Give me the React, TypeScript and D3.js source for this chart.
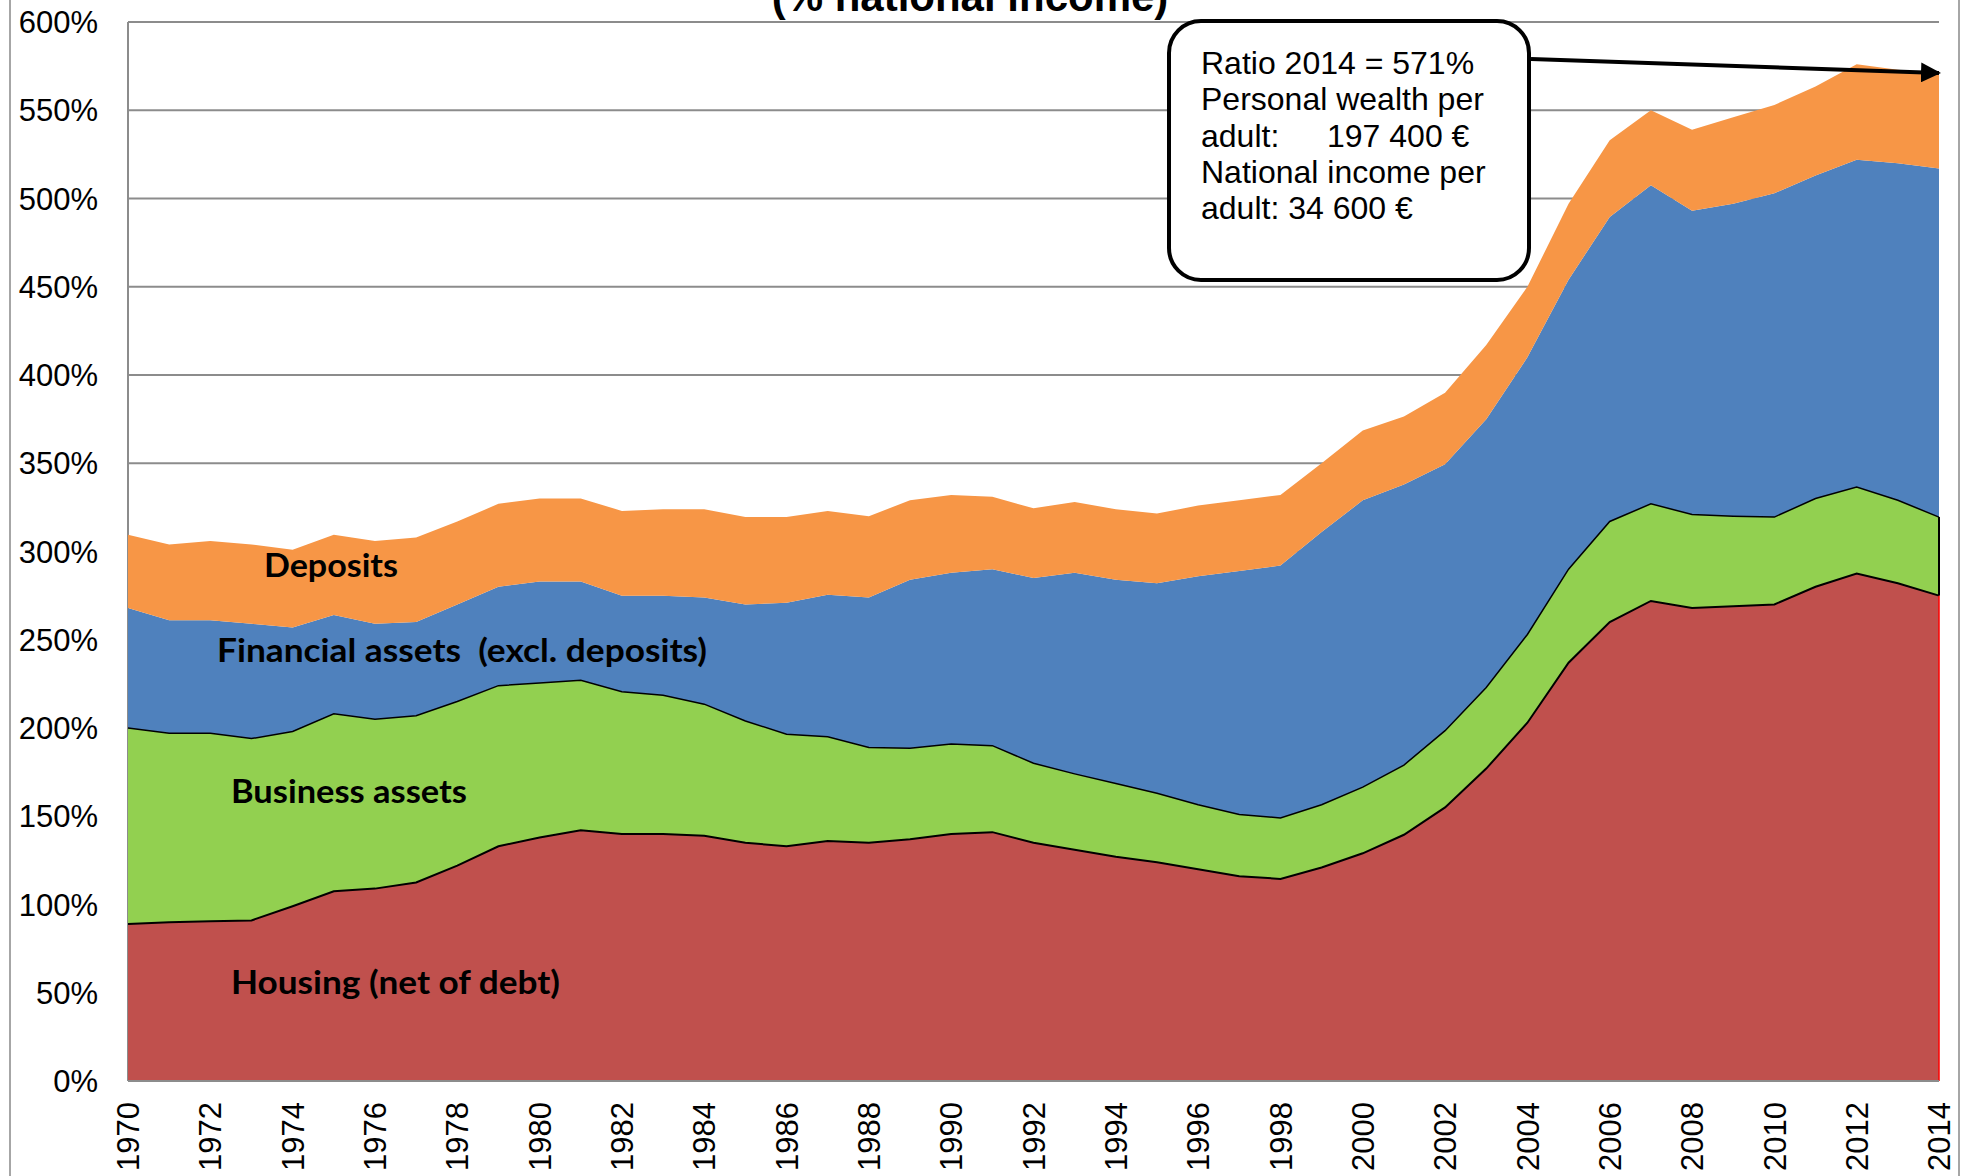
import React from 'react';
import * as d3 from 'd3';

const years = d3.range(1970, 2015);
const housing = [89, 90, 90.5, 91, 99, 107.5, 109, 112.5, 122, 133, 138, 142, 140, 140, 139, 135, 133, 136, 135, 137, 140, 141, 135, 131, 127, 124, 120, 116, 114.5, 121, 129, 139.5, 155, 177, 203, 237, 260, 272, 268, 269, 270, 280, 287.5, 282, 275];
const business = [111, 107, 106.5, 103, 99, 100.5, 96, 94.5, 93, 91, 87.5, 85, 80.5, 78.5, 74.5, 69, 63.5, 59, 54, 51.5, 51, 49, 45, 43, 41.5, 39, 36.5, 35, 34.5, 35.5, 37.5, 39.5, 43.5, 46, 50, 53, 57, 55, 53, 51, 49.5, 50, 49, 47, 44.5];
const financial = [68, 64, 64, 65, 59, 56, 54, 53, 55, 56, 57.5, 56, 54.5, 56.5, 60.5, 66, 74.5, 80.5, 85, 95.5, 97, 100, 105, 114, 115.5, 119, 129.5, 138, 143, 154.5, 162.5, 159, 151, 152, 157, 164, 172.5, 180.5, 172, 177, 183.5, 183, 185.5, 191, 197.5];
const deposits = [41.5, 43, 45, 45, 44, 45.5, 47, 48, 47, 47, 47, 47, 48, 49, 50, 49.5, 48.5, 47.5, 46, 45, 44, 41, 39.5, 40, 40, 39.5, 40, 40, 40, 39, 39.5, 38.5, 40.5, 42, 40, 43, 43.5, 42.5, 46, 49, 50, 50.5, 54, 53, 54];

const seriesKeys = ['housing', 'business', 'financial', 'deposits'];
const seriesColors = ['#C0504D', '#92D050', '#4F81BD', '#F79646'];
const yTicks = [0, 50, 100, 150, 200, 250, 300, 350, 400, 450, 500, 550, 600];
const xTicks = d3.range(1970, 2015, 2);

const annotationLines = ['Ratio 2014 = 571%', 'Personal wealth per', 'adult:', 'National income per', 'adult: 34 600 €'];

const W = 1968;
const H = 1176;
const arial = '"Liberation Sans", Arial, sans-serif';
const calibri = 'Lato, "Open Sans", sans-serif';

export default function App() {
  const x = d3.scaleLinear().domain([1970, 2014]).range([128, 1939]);
  const y = d3.scaleLinear().domain([0, 600]).range([1081, 22]);

  const rows = years.map((yr, i) => ({
    year: yr,
    housing: housing[i],
    business: business[i],
    financial: financial[i],
    deposits: deposits[i],
  }));
  const stacked = d3.stack<any>().keys(seriesKeys)(rows);

  const area = d3
    .area<any>()
    .x((d) => x(d.data.year))
    .y0((d) => y(d[0]))
    .y1((d) => y(d[1]));
  const topLine = d3
    .line<any>()
    .x((d) => x(d.data.year))
    .y((d) => y(d[1]));

  const last = years.length - 1;
  const redTop = stacked[0][last][1];
  const greenTop = stacked[1][last][1];

  return (
    <svg width={W} height={H} style={{ position: 'absolute', left: 0, top: 0, background: '#fff' }}>
      <defs>
        <marker id="arrowhead" viewBox="0 0 10 10" refX="9" refY="5" markerWidth="5" markerHeight="5" orient="auto">
          <path d="M0,0 L10,5 L0,10 z" fill="#000" />
        </marker>
      </defs>
      {/* outer frame */}
      <line x1={10} x2={10} y1={0} y2={H} stroke="#a6a6a6" strokeWidth={2} />
      <line x1={1959} x2={1959} y1={0} y2={H} stroke="#a6a6a6" strokeWidth={2} />

      {/* title, cut off at the top as in the source */}
      <text x={970} y={11} textAnchor="middle" fontFamily={arial} fontWeight="bold" fontSize={42}>
        (% national income)
      </text>

      {/* grid */}
      {yTicks.map((t) => (
        <line key={t} x1={x(1970)} x2={x(2014)} y1={y(t)} y2={y(t)} stroke="#8c8c8c" strokeWidth={2} />
      ))}
      <line x1={x(1970)} x2={x(1970)} y1={y(600)} y2={y(0)} stroke="#8c8c8c" strokeWidth={2} />

      {/* areas */}
      {stacked.map((s, i) => (
        <path key={s.key} d={area(s) as string} fill={seriesColors[i]} />
      ))}
      <path d={topLine(stacked[1]) as string} fill="none" stroke="#000" strokeWidth={1.5} />
      <path d={topLine(stacked[0]) as string} fill="none" stroke="#000" strokeWidth={2} />
      <line x1={x(2014)} x2={x(2014)} y1={y(greenTop)} y2={y(redTop)} stroke="#000" strokeWidth={2} />
      <line x1={x(2014)} x2={x(2014)} y1={y(redTop)} y2={y(0)} stroke="#ff0000" strokeWidth={1.5} />
      <line x1={x(1970)} x2={x(2014)} y1={y(0)} y2={y(0)} stroke="#8c8c8c" strokeWidth={2} />

      {/* y axis labels */}
      {yTicks.map((t) => (
        <text key={t} x={98} y={y(t)} dy="0.36em" textAnchor="end" fontFamily={arial} fontSize={31} fill="#000">
          {t}%
        </text>
      ))}

      {/* x axis labels */}
      {xTicks.map((t) => (
        <text
          key={t}
          transform={`translate(${x(t)},1102) rotate(-90)`}
          dy="0.36em"
          textAnchor="end"
          fontFamily={arial}
          fontSize={31}
          fill="#000"
        >
          {t}
        </text>
      ))}

      {/* series labels */}
      <text x={264} y={577} fontFamily={calibri} fontWeight="bold" fontSize={32} textLength={134} lengthAdjust="spacingAndGlyphs">
        Deposits
      </text>
      <text x={217} y={662} fontFamily={calibri} fontWeight="bold" fontSize={32} textLength={490} lengthAdjust="spacingAndGlyphs" style={{ whiteSpace: 'pre' }}>
        {'Financial assets  (excl. deposits)'}
      </text>
      <text x={231} y={803} fontFamily={calibri} fontWeight="bold" fontSize={32} textLength={236} lengthAdjust="spacingAndGlyphs">
        Business assets
      </text>
      <text x={231} y={994} fontFamily={calibri} fontWeight="bold" fontSize={32} textLength={329} lengthAdjust="spacingAndGlyphs">
        Housing (net of debt)
      </text>

      {/* annotation */}
      <line x1={1531} y1={59} x2={x(2014)} y2={73} stroke="#000" strokeWidth={4} markerEnd="url(#arrowhead)" />
      <rect x={1169} y={21} width={360} height={259} rx={32} ry={32} fill="#fff" stroke="#000" strokeWidth={4} />
      {annotationLines.map((l, i) => (
        <text key={i} x={1201} y={74 + i * 36.3} fontFamily={arial} fontSize={32} fill="#000">
          {l}
        </text>
      ))}
      <text x={1327} y={74 + 2 * 36.3} fontFamily={arial} fontSize={32} fill="#000">
        197 400 €
      </text>
    </svg>
  );
}
